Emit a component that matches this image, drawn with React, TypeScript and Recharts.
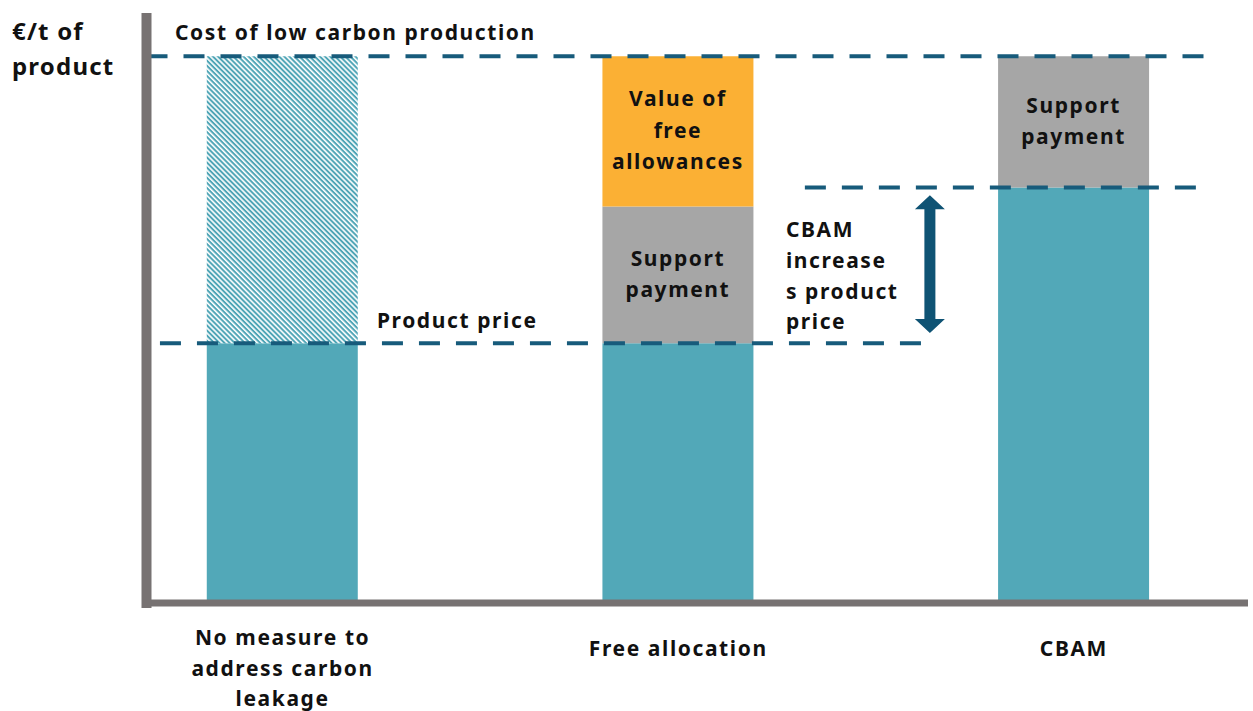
import React from "react";
import { BarChart, Bar, XAxis, YAxis, ReferenceLine, LabelList, Label } from "recharts";

// ---- data ----
const categories = ["No measure to address carbon leakage", "Free allocation", "CBAM"];
const tickLines = [["No measure to", "address carbon", "leakage"], ["Free allocation"], ["CBAM"]];
const xPositions = [1, 2, 3];
const productPrice = [47.5, 47.5, 76];
const uncoveredCost = [52.5, 0, 0];
const supportPayment = [0, 25, 24];
const freeAllowances = [0, 27.5, 0];

const supportText = ["Support", "payment"];
const allowanceText = ["Value of", "free", "allowances"];
const cbamText = ["CBAM", "increase", "s product", "price"];
const yTitle = ["€/t of", "product"];

const costLevel = 100;
const priceLevel = 47.5;
const cbamPriceLevel = 76;
const costLineX = [0.656, 3.358];
const priceLineX = [0.69, 2.636];
const cbamLineX = [2.32, 3.318];
const arrowX = 2.636;
const arrowY = [74.6, 49.4];

const data = categories.map((c, i) => ({
  name: c,
  x: xPositions[i],
  price: productPrice[i],
  gap: uncoveredCost[i],
  support: supportPayment[i],
  allowances: freeAllowances[i],
}));

// ---- styles ----
const FONT = "'Noto Sans', sans-serif";
const textStyle: React.CSSProperties = {
  fontFamily: FONT,
  fontWeight: 700,
  fontSize: 21,
  letterSpacing: 1.6,
};
const TEAL = "#52A8B8";
const GRAY = "#A6A6A6";
const ORANGE = "#FBB034";
const LINE = "#175B7B";
const ARROW = "#0F5374";
const AXIS = "#777272";
const LINE_H = 31.5;

const CustomTick = (props: any) => {
  const { x, y, index } = props;
  const lines = tickLines[index] || [];
  const startY = lines.length > 1 ? y + 42 : y + 53;
  return (
    <g>
      {lines.map((l, i) => (
        <text key={i} x={x} y={startY + i * 30.5} textAnchor="middle" fill="#111" style={textStyle}>
          {l}
        </text>
      ))}
    </g>
  );
};

const makeBoxLabel = (lines: string[]) => (props: any) => {
  const { x, y, width, height, value } = props;
  if (!value) return null;
  const cx = x + width / 2;
  const cy = y + height / 2;
  const first = cy - ((lines.length - 1) * LINE_H) / 2 + 6.5;
  return (
    <g>
      {lines.map((l, i) => (
        <text key={i} x={cx} y={first + i * LINE_H} textAnchor="middle" fill="#111" style={textStyle}>
          {l}
        </text>
      ))}
    </g>
  );
};

const ArrowShape = (props: any) => {
  const { x1, y1, x2, y2 } = props;
  const x = (x1 + x2) / 2;
  const top = Math.min(y1, y2);
  const bot = Math.max(y1, y2);
  const hw = 15;
  const hh = 14;
  const sw = 5.5;
  const d = `M${x},${top} L${x + hw},${top + hh} L${x + sw},${top + hh} L${x + sw},${bot - hh} L${x + hw},${bot - hh} L${x},${bot} L${x - hw},${bot - hh} L${x - sw},${bot - hh} L${x - sw},${top + hh} L${x - hw},${top + hh} Z`;
  return <path d={d} fill={ARROW} />;
};

export default function App() {
  return (
    <div style={{ position: "absolute", left: 0, top: 0, background: "#fff" }}>
      <BarChart
        width={1253}
        height={711}
        data={data}
        margin={{ top: 18, right: 5, bottom: 0, left: 0 }}
      >
        <defs>
          <pattern id="hatch" patternUnits="userSpaceOnUse" width="3.6" height="3.6" patternTransform="rotate(45)">
            <rect x="0" y="0" width="3.6" height="3.6" fill="#ffffff" />
            <rect x="0" y="0" width="3.6" height="2" fill="#4FA5B6" />
          </pattern>
        </defs>
        <XAxis
          type="number"
          dataKey="x"
          domain={[0.656, 3.44]}
          ticks={xPositions}
          interval={0}
          allowDataOverflow
          tickLine={false}
          tickSize={0}
          tickMargin={0}
          tick={<CustomTick />}
          axisLine={{ stroke: AXIS, strokeWidth: 7 }}
          height={108}
        />
        <YAxis
          type="number"
          domain={[0, 107]}
          width={146.5}
          tick={false}
          tickLine={false}
          axisLine={{ stroke: AXIS, strokeWidth: 10, strokeLinecap: "square" }}
        >
          <Label
            content={() => (
              <g>
                {yTitle.map((t, i) => (
                  <text key={i} x={12} y={40 + i * 35} fill="#111" style={{ ...textStyle, fontSize: 24, letterSpacing: 1.2 }}>
                    {t}
                  </text>
                ))}
              </g>
            )}
          />
        </YAxis>
        <Bar dataKey="price" stackId="s" fill={TEAL} barSize={151} isAnimationActive={false} />
        <Bar dataKey="gap" stackId="s" fill="url(#hatch)" barSize={151} isAnimationActive={false} />
        <Bar dataKey="support" stackId="s" fill={GRAY} barSize={151} isAnimationActive={false}>
          <LabelList dataKey="support" content={makeBoxLabel(supportText)} />
        </Bar>
        <Bar dataKey="allowances" stackId="s" fill={ORANGE} barSize={151} isAnimationActive={false}>
          <LabelList dataKey="allowances" content={makeBoxLabel(allowanceText)} />
        </Bar>
        <ReferenceLine
          segment={[{ x: costLineX[0], y: costLevel }, { x: costLineX[1], y: costLevel }]}
          stroke={LINE}
          strokeWidth={4}
          strokeDasharray="21 16"
          ifOverflow="visible"
        >
          <Label
            content={(p: any) => (
              <text x={p.viewBox.x + 28.5} y={p.viewBox.y - 16} fill="#111" style={textStyle}>
                Cost of low carbon production
              </text>
            )}
          />
        </ReferenceLine>
        <ReferenceLine
          segment={[{ x: priceLineX[0], y: priceLevel }, { x: priceLineX[1], y: priceLevel }]}
          stroke={LINE}
          strokeWidth={4}
          strokeDasharray="21 16"
          ifOverflow="visible"
        >
          <Label
            content={(p: any) => (
              <text x={p.viewBox.x + 217} y={p.viewBox.y - 15} fill="#111" style={textStyle}>
                Product price
              </text>
            )}
          />
        </ReferenceLine>
        <ReferenceLine
          segment={[{ x: cbamLineX[0], y: cbamPriceLevel }, { x: cbamLineX[1], y: cbamPriceLevel }]}
          stroke={LINE}
          strokeWidth={4}
          strokeDasharray="21 16"
          ifOverflow="visible"
        />
        <ReferenceLine
          segment={[{ x: arrowX, y: arrowY[0] }, { x: arrowX, y: arrowY[1] }]}
          shape={ArrowShape}
          ifOverflow="visible"
        >
          <Label
            content={(p: any) => (
              <g>
                {cbamText.map((t, i) => (
                  <text key={i} x={p.viewBox.x - 144} y={p.viewBox.y + 42 + i * 30.7} fill="#111" style={textStyle}>
                    {t}
                  </text>
                ))}
              </g>
            )}
          />
        </ReferenceLine>
      </BarChart>
    </div>
  );
}
